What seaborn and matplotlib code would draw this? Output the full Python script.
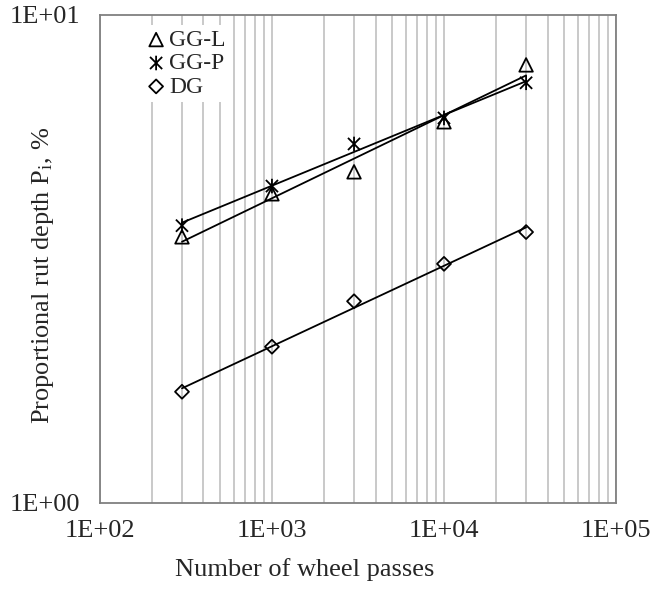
import numpy as np
import pandas as pd
import matplotlib
matplotlib.use('Agg')
import matplotlib.pyplot as plt
from matplotlib.path import Path
from matplotlib.ticker import FuncFormatter, LogLocator, NullFormatter
import seaborn as sns

# data
passes = [300, 1000, 3000, 10000, 30000]
gg_l = [3.51, 4.30, 4.77, 6.04, 7.90]
gg_p = [3.70, 4.46, 5.44, 6.15, 7.26]
dg = [1.69, 2.09, 2.59, 3.09, 3.59]

sns.set_style('white')
plt.rcParams['font.family'] = ['Liberation Serif', 'DejaVu Serif']
plt.rcParams['mathtext.fontset'] = 'stix'

# asterisk marker: X with vertical stroke
star = Path([(-1, -1), (1, 1), (-1, 1), (1, -1), (0, -1.2), (0, 1.2)],
            [Path.MOVETO, Path.LINETO, Path.MOVETO, Path.LINETO, Path.MOVETO, Path.LINETO])

fig, ax = plt.subplots(figsize=(6.66, 5.97), dpi=100)
fig.subplots_adjust(left=0.150, right=0.925, bottom=0.1575, top=0.975)

series = [('GG-L', gg_l, '^', 95), ('GG-P', gg_p, star, 110), ('DG', dg, 'D', 50)]

for name, vals, mk, sz in series:
    # power trendline, as in the original spreadsheet chart
    b, a = np.polyfit(np.log10(passes), np.log10(vals), 1)
    xs = np.logspace(np.log10(passes[0]), np.log10(passes[-1]), 50)
    fit = pd.DataFrame({'x': xs, 'y': 10 ** (a + b * np.log10(xs))})
    sns.lineplot(data=fit, x='x', y='y', ax=ax, color='black', lw=1.3, zorder=3)
    df = pd.DataFrame({'x': passes, 'y': vals})
    sns.scatterplot(data=df, x='x', y='y', ax=ax, marker=mk, s=sz, facecolor='none',
                    edgecolor='black', linewidth=1.3, label=name, zorder=4)

ax.set_xscale('log')
ax.set_yscale('log')
ax.set_xlim(100, 100000)
ax.set_ylim(1, 10)

ax.xaxis.set_major_locator(LogLocator(base=10, numticks=10))
ax.xaxis.set_minor_locator(LogLocator(base=10, subs=np.arange(2, 10), numticks=10))
ax.yaxis.set_major_locator(LogLocator(base=10, numticks=10))
ax.yaxis.set_minor_locator(LogLocator(base=10, subs=[], numticks=10))
fmt = FuncFormatter(lambda v, p: '1E+%02d' % int(round(np.log10(v))))
ax.xaxis.set_major_formatter(fmt)
ax.yaxis.set_major_formatter(fmt)
ax.xaxis.set_minor_formatter(NullFormatter())
ax.yaxis.set_minor_formatter(NullFormatter())

ax.grid(True, which='both', axis='x', color='#c0c0c0', lw=1.2)
ax.grid(False, axis='y')
ax.set_axisbelow(True)

for sp in ax.spines.values():
    sp.set_color('#808080')
    sp.set_linewidth(1.3)
ax.tick_params(axis='both', which='major', direction='out', length=7, width=1.3,
               color='#808080', labelsize=19)
ax.tick_params(axis='both', which='minor', length=0)
ax.tick_params(axis='x', pad=5)
ax.tick_params(axis='y', pad=7)

ax.set_xlabel('Number of wheel passes', fontsize=19)
ax.set_ylabel(r'Proportional rut depth P$_\mathregular{i}$, %', fontsize=19)
ax.xaxis.set_label_coords(0.397, -0.112)
ax.yaxis.set_label_coords(-0.085, 0.467)

leg = ax.legend(loc='upper left', bbox_to_anchor=(0.07, 0.99), fontsize=17, frameon=True,
                facecolor='white', edgecolor='none', framealpha=1, fancybox=False,
                handletextpad=0.1, labelspacing=0.08, borderpad=0.2, handlelength=0.9,
                borderaxespad=0.2)

plt.savefig('out.png', dpi=100)
